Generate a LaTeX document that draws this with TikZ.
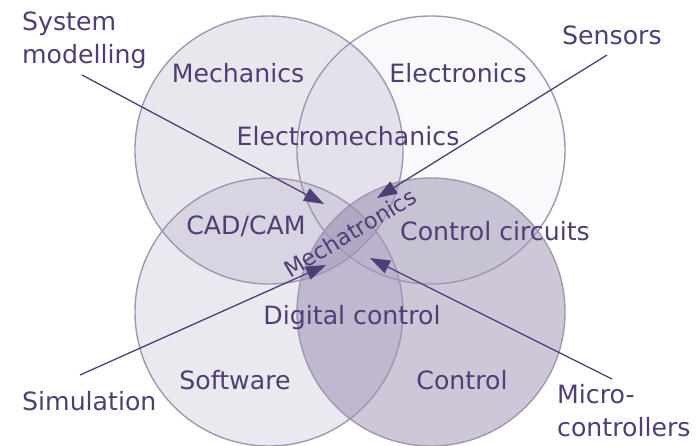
\documentclass[tikz,border=0pt]{standalone}
\usepackage{fontspec}
\setmainfont{DejaVu Sans}
\usetikzlibrary{arrows.meta}
\definecolor{venn}{RGB}{107,90,142}
\definecolor{rim}{RGB}{160,150,180}
\definecolor{ink}{RGB}{79,62,118}
\begin{document}
\begin{tikzpicture}[x=1pt,y=-1pt,
  disc/.style={circle,minimum size=268pt,inner sep=0pt,fill=venn},
  rimline/.style={draw=rim,line width=1.4pt},
  lbl/.style={text=ink,font=\fontsize{25.2}{33}\selectfont,inner sep=0pt},
  side/.style={lbl,align=left},
  pointer/.style={draw=ink,line width=1.3pt,-{Triangle[length=20pt,width=14pt]}}]
\useasboundingbox (0,0) rectangle (698,445);
% the four fields as translucent discs
\node[disc,fill opacity=0.15] (mech) at (269,150) {};
\node[disc,fill opacity=0.045] (elec) at (431,150) {};
\node[disc,fill opacity=0.135] (soft) at (269,312) {};
\node[disc,fill opacity=0.34] (ctrl) at (431,312) {};
% outlines on top
\foreach \c in {mech,elec,soft,ctrl}
  \draw[rimline] (\c.center) circle[radius=134pt];
% field and overlap labels
\node[lbl] (lmech) at (238,73) {Mechanics};
\node[lbl] (lelec) at (458,73) {Electronics};
\node[lbl] (lem) at (348,136) {Electromechanics};
\node[lbl] (lcad) at (246,226) {CAD/CAM};
\node[lbl] (lcc) at (495,231) {Control circuits};
\node[lbl] (ldc) at (352,318) {Digital control};
\node[lbl] (lsoft) at (235,380) {Software};
\node[lbl] (lctrl) at (462,380) {Control};
\node[lbl,font=\fontsize{22.5}{27}\selectfont,rotate=31] (lmt) at (350,233) {Mechatronics};
% outer labels
\node[side,anchor=north west] (lsys) at (22,12) {System\\modelling};
\node[lbl,anchor=west] (lsens) at (562,35) {Sensors};
\node[lbl,anchor=west] (lsim) at (22,401) {Simulation};
\node[side,anchor=north west] (lmc) at (557,384) {Micro-\\controllers};
% pointer ends
\coordinate (s1) at (82,75);  \coordinate (t1) at (324,204);
\coordinate (s2) at (607,55); \coordinate (t2) at (377,198);
\coordinate (s3) at (80,375); \coordinate (t3) at (326,265);
\coordinate (s4) at (612,379); \coordinate (t4) at (370,258);
\draw[pointer] (s1) -- (t1);
\draw[pointer] (s2) -- (t2);
\draw[pointer] (s3) -- (t3);
\draw[pointer] (s4) -- (t4);
\end{tikzpicture}
\end{document}
